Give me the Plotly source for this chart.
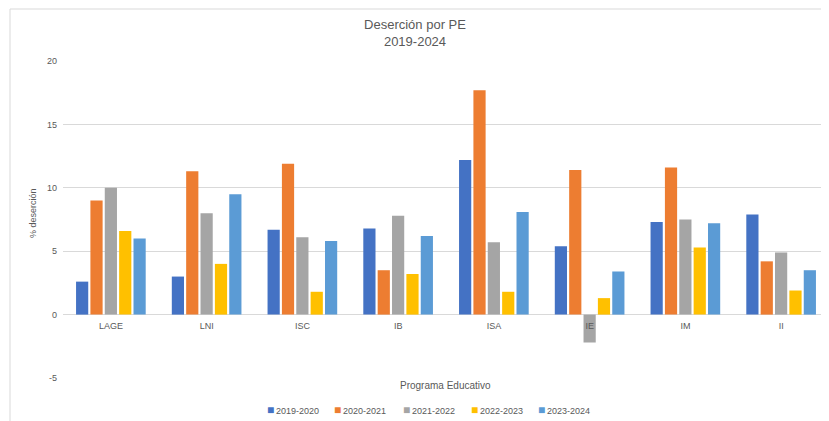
import plotly.graph_objects as go

categories = ["LAGE", "LNI", "ISC", "IB", "ISA", "IE", "IM", "II"]
series_names = ["2019-2020", "2020-2021", "2021-2022", "2022-2023", "2023-2024"]
v2019 = [2.6, 3.0, 6.7, 6.8, 12.2, 5.4, 7.3, 7.9]
v2020 = [9.0, 11.3, 11.9, 3.5, 17.7, 11.4, 11.6, 4.2]
v2021 = [10.0, 8.0, 6.1, 7.8, 5.7, -2.2, 7.5, 4.9]
v2022 = [6.6, 4.0, 1.8, 3.2, 1.8, 1.3, 5.3, 1.9]
v2023 = [6.0, 9.5, 5.8, 6.2, 8.1, 3.4, 7.2, 3.5]
y_ticks = [-5, 0, 5, 10, 15, 20]
y_tick_labels = ["-5", "0", "5", "10", "15", "20"]

values = [v2019, v2020, v2021, v2022, v2023]
colors = ["#4472C4", "#ED7D31", "#A5A5A5", "#FFC000", "#5B9BD5"]

# page body has an 8px margin, so figure coordinates = screen - 8
OFF = 8
W, H = 829 - OFF, 421 - OFF
ml, mr, mt, mb = 63 - OFF, 0, 61 - OFF, H - (378 - OFF)
pw, ph = W - ml - mr, H - mt - mb
plot_bottom = H - mb


def px_x(sx):
    return (sx - OFF - ml) / pw


def px_y(sy):
    return (plot_bottom - (sy - OFF)) / ph


fig = go.Figure()
for name, vals, c in zip(series_names, values, colors):
    fig.add_trace(go.Bar(x=categories, y=vals, name=name, marker_color=c,
                         marker_line_width=0, showlegend=False))

font_family = "Liberation Sans"
gray = "#595959"

fig.update_layout(
    width=W, height=H,
    margin=dict(l=ml, r=mr, t=mt, b=mb, autoexpand=False),
    paper_bgcolor="white", plot_bgcolor="white",
    barmode="group", bargap=0.25, bargroupgap=0.15,
    font=dict(family=font_family, color=gray, size=9),
    title=dict(text="Deserción por PE<br>2019-2024", x=px_x(415), xanchor="center",
               xref="paper", y=1 - 21 / H, yref="container", yanchor="middle",
               font=dict(size=13, color=gray, family=font_family)),
    showlegend=False,
    xaxis=dict(anchor="free", position=(0 - (-5)) / 25, showgrid=False,
               showline=False, ticks="", tickfont=dict(size=9, color=gray),
               zeroline=False, automargin=False, ticklabelstandoff=4),
    yaxis=dict(range=[-5, 20], tickvals=y_ticks, ticktext=y_tick_labels,
               showgrid=True,
               gridcolor="#D9D9D9", gridwidth=1, zeroline=True,
               zerolinecolor="#D9D9D9", zerolinewidth=1, showline=False,
               ticks="", ticklabelstandoff=5, automargin=False,
               tickfont=dict(size=9, color=gray)),
)

fig.add_annotation(text="% deserción", textangle=-90, x=px_x(33),
                   y=px_y(213), xref="paper", yref="paper",
                   showarrow=False, font=dict(size=9, color=gray),
                   xanchor="center", yanchor="middle")
fig.add_annotation(text="Programa Educativo", x=px_x(445), y=px_y(385),
                   xref="paper", yref="paper", showarrow=False,
                   font=dict(size=10, color=gray), xanchor="center",
                   yanchor="middle")

# legend drawn as text entries with coloured squares
legend_x0 = [265, 332, 401, 469, 536]
for name, c, lx in zip(series_names, colors, legend_x0):
    fig.add_annotation(
        text=f"<span style='color:{c};font-size:12px'>■</span>"
             f"<span style='font-size:6px'> </span>{name}",
        x=px_x(lx), y=px_y(410),
        xref="paper", yref="paper", showarrow=False,
        font=dict(size=9, color=gray), xanchor="left",
        yanchor="middle")

# chart border (left and top)
fig.add_shape(type="line", xref="paper", yref="paper",
              x0=px_x(10), x1=px_x(10), y0=px_y(9), y1=px_y(430),
              line=dict(color="#D9D9D9", width=1))
fig.add_shape(type="line", xref="paper", yref="paper",
              x0=px_x(10), x1=px_x(840), y0=px_y(9), y1=px_y(9),
              line=dict(color="#D9D9D9", width=1))

fig.write_html("out.html")
